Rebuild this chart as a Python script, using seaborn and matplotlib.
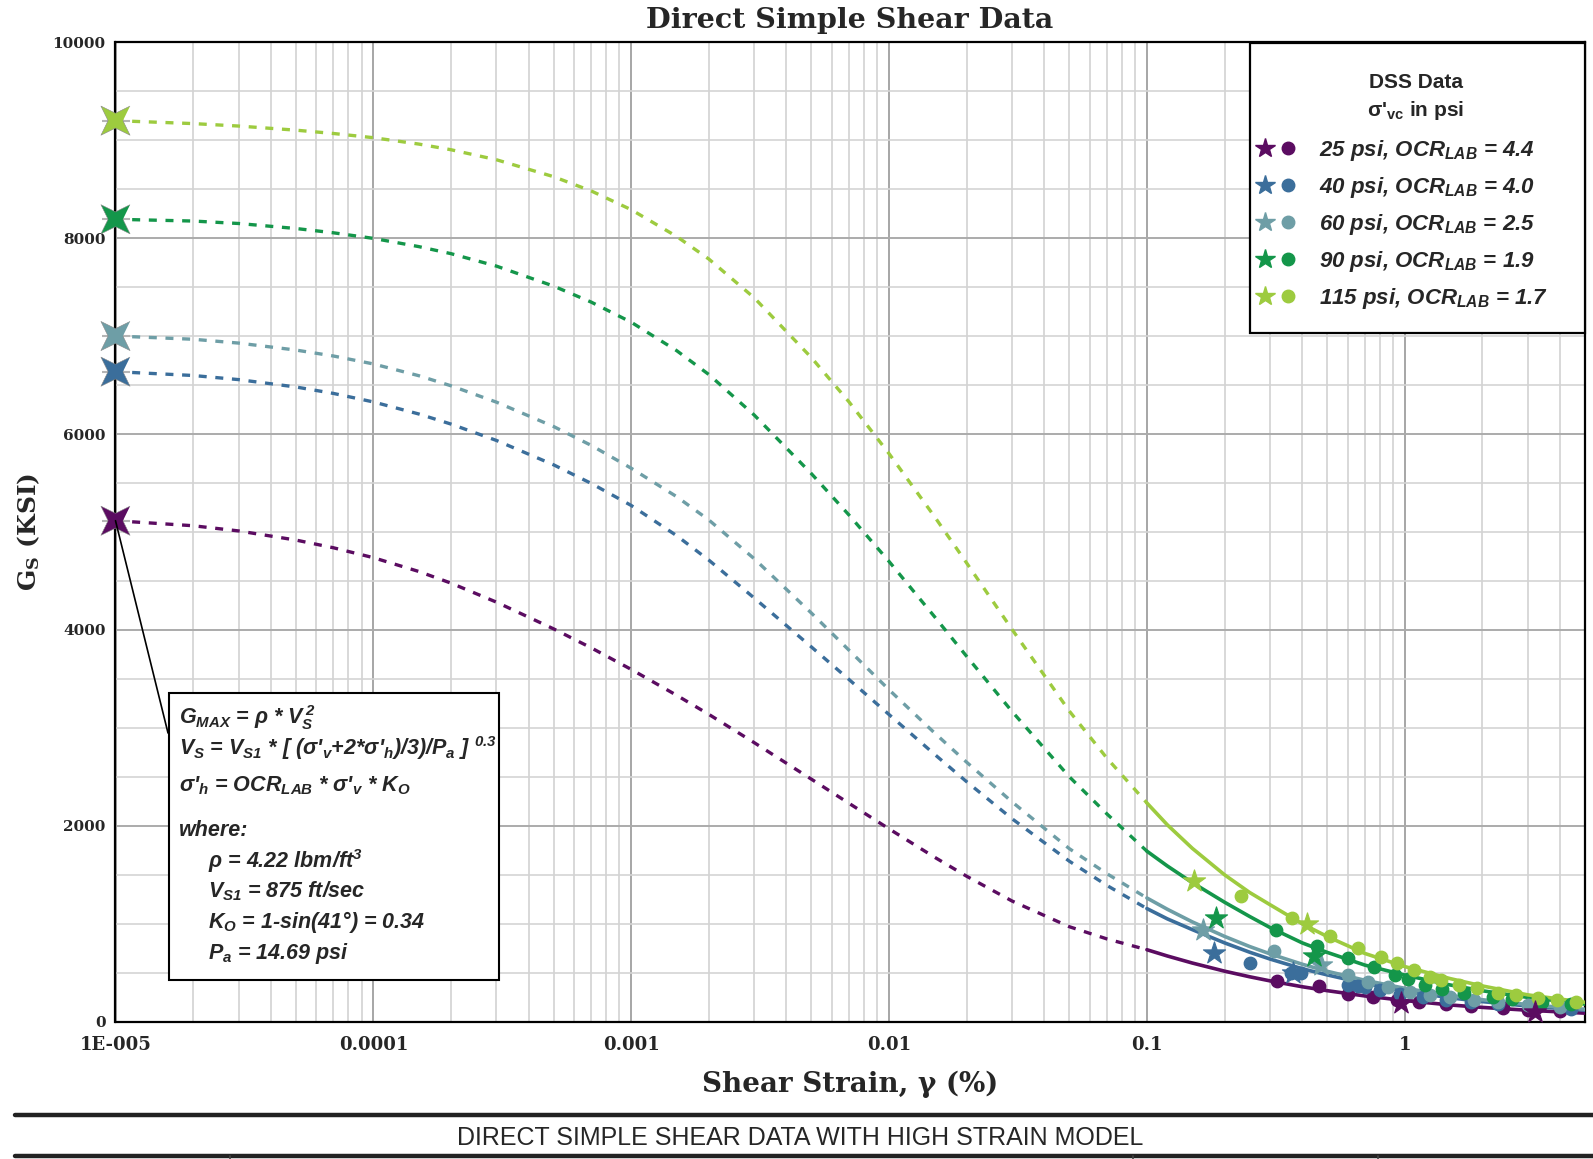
import numpy as np
import pandas as pd
import matplotlib
matplotlib.use("Agg")
import matplotlib.pyplot as plt
import seaborn as sns
from matplotlib.lines import Line2D
from matplotlib.patches import Rectangle
from matplotlib.legend_handler import HandlerTuple
from matplotlib.font_manager import FontProperties
from matplotlib.ticker import FixedLocator, FixedFormatter, NullFormatter, MultipleLocator

# ---------------- data ----------------
series_names = ["25 psi", "40 psi", "60 psi", "90 psi", "115 psi"]
ocr_values = ["4.4", "4.0", "2.5", "1.9", "1.7"]
series_colors = ["#5b0c61", "#3b6e9b", "#6e9ea6", "#14964a", "#9dcb3f"]

gmax_strain = 1e-5
gmax_values = [5115, 6637, 7001, 8193, 9200]

strain_low = [1e-5, 2e-5, 3e-5, 5e-5, 7e-5, 1e-4, 1.5e-4, 2e-4, 3e-4, 5e-4, 7e-4, 1e-3,
              1.5e-3, 2e-3, 3e-3, 5e-3, 7e-3, 1e-2, 1.5e-2, 2e-2, 3e-2, 5e-2, 7e-2, 1e-1]
g_low_25 = [5115, 5064, 5011, 4918, 4839, 4738, 4597, 4478, 4284, 4011, 3817, 3597,
            3333, 3138, 2849, 2476, 2229, 1969, 1680, 1485, 1232, 970, 845, 735]
g_low_40 = [6637, 6598, 6556, 6481, 6415, 6328, 6205, 6102, 5935, 5686, 5496, 5271,
            4963, 4713, 4326, 3826, 3493, 3136, 2731, 2450, 2072, 1639, 1391, 1155]
g_low_60 = [7001, 6968, 6929, 6858, 6797, 6716, 6596, 6493, 6326, 6077, 5884, 5651,
            5361, 5123, 4727, 4172, 3792, 3389, 2949, 2649, 2244, 1767, 1511, 1263]
g_low_90 = [8193, 8175, 8150, 8099, 8055, 7998, 7914, 7842, 7715, 7511, 7347, 7142,
            6852, 6608, 6194, 5595, 5172, 4699, 4136, 3730, 3167, 2501, 2121, 1741]
g_low_115 = [9200, 9170, 9145, 9103, 9069, 9026, 8961, 8903, 8801, 8628, 8482, 8291,
             8018, 7787, 7391, 6780, 6327, 5800, 5158, 4683, 4005, 3172, 2690, 2233]

strain_high = [0.1, 0.12, 0.15, 0.2, 0.25, 0.3, 0.4, 0.5, 0.7, 1.0, 1.5, 2.0, 3.0, 5.0]
g_high_25 = [735, 671, 599, 516, 459, 417, 357, 317, 263, 216, 171, 146, 117, 87]
g_high_40 = [1155, 1050, 940, 805, 710, 640, 541, 478, 390, 312, 244, 205, 160, 118]
g_high_60 = [1263, 1148, 1019, 871, 768, 693, 587, 515, 423, 341, 268, 224, 175, 127]
g_high_90 = [1741, 1590, 1420, 1220, 1075, 962, 805, 708, 578, 476, 375, 316, 248, 180]
g_high_115 = [2233, 2010, 1770, 1500, 1320, 1195, 1000, 870, 697, 563, 440, 365, 274, 198]

star_x_25 = [0.97, 3.2]
star_g_25 = [190, 102]
star_x_40 = [0.182, 0.37]
star_g_40 = [701, 497]
star_x_60 = [0.165, 0.475]
star_g_60 = [939, 582]
star_x_90 = [0.186, 0.444]
star_g_90 = [1058, 667]
star_x_115 = [0.152, 0.416]
star_g_115 = [1432, 1000]

circ_x_25 = [0.32, 0.465, 0.6, 0.75, 0.93, 1.14, 1.45, 1.8, 2.4, 3.0, 4.0]
circ_g_25 = [418, 361, 286, 257, 223, 206, 180, 160, 135, 120, 105]
circ_x_40 = [0.252, 0.363, 0.397, 0.6, 0.66, 0.7, 0.8, 0.96, 1.18, 1.45, 1.8, 2.3, 3.2, 4.4]
circ_g_40 = [599, 497, 497, 378, 367, 351, 324, 284, 250, 223, 206, 182, 150, 130]
circ_x_60 = [0.311, 0.6, 0.72, 0.86, 1.05, 1.25, 1.5, 1.85, 2.3, 3.0, 4.0]
circ_g_60 = [718, 480, 409, 351, 307, 274, 257, 223, 200, 175, 150]
circ_x_90 = [0.316, 0.457, 0.6, 0.76, 0.92, 1.03, 1.2, 1.4, 1.7, 2.2, 2.6, 3.4, 4.4]
circ_g_90 = [939, 769, 650, 561, 476, 432, 375, 331, 291, 257, 230, 206, 182]
circ_x_115 = [0.231, 0.366, 0.514, 0.66, 0.81, 0.93, 1.09, 1.25, 1.38, 1.62, 1.9, 2.3,
              2.7, 3.3, 3.9, 4.6]
circ_g_115 = [1286, 1058, 871, 752, 662, 595, 527, 453, 426, 375, 341, 291, 274, 240,
              223, 206]

x_tick_values = [1e-5, 1e-4, 1e-3, 1e-2, 1e-1, 1]
x_tick_labels = ["1E-005", "0.0001", "0.001", "0.01", "0.1", "1"]
y_tick_values = [0, 2000, 4000, 6000, 8000, 10000]

# ---------------- tables ----------------
g_low_all = [g_low_25, g_low_40, g_low_60, g_low_90, g_low_115]
g_high_all = [g_high_25, g_high_40, g_high_60, g_high_90, g_high_115]
star_x_all = [star_x_25, star_x_40, star_x_60, star_x_90, star_x_115]
star_g_all = [star_g_25, star_g_40, star_g_60, star_g_90, star_g_115]
circ_x_all = [circ_x_25, circ_x_40, circ_x_60, circ_x_90, circ_x_115]
circ_g_all = [circ_g_25, circ_g_40, circ_g_60, circ_g_90, circ_g_115]

low_df = pd.concat([pd.DataFrame({"strain": strain_low, "G": g, "series": n})
                    for n, g in zip(series_names, g_low_all)], ignore_index=True)
high_df = pd.concat([pd.DataFrame({"strain": strain_high, "G": g, "series": n})
                     for n, g in zip(series_names, g_high_all)], ignore_index=True)
star_df = pd.concat([pd.DataFrame({"strain": x, "G": g, "series": n})
                     for n, x, g in zip(series_names, star_x_all, star_g_all)], ignore_index=True)
circ_df = pd.concat([pd.DataFrame({"strain": x, "G": g, "series": n})
                     for n, x, g in zip(series_names, circ_x_all, circ_g_all)], ignore_index=True)
gmax_df = pd.DataFrame({"strain": [gmax_strain] * 5, "G": gmax_values, "series": series_names})
palette = dict(zip(series_names, series_colors))

# ---------------- style ----------------
sns.set_theme(style="white")
plt.rcParams["font.family"] = ["DejaVu Serif", "DejaVu Sans"]
plt.rcParams["mathtext.fontset"] = "custom"
plt.rcParams["mathtext.it"] = "Liberation Sans:italic:bold"
plt.rcParams["mathtext.rm"] = "Liberation Sans:italic:bold"
plt.rcParams["mathtext.bf"] = "DejaVu Serif:bold"
plt.rcParams["mathtext.sf"] = "Liberation Sans:bold"

W, H = 1593, 1159
fig = plt.figure(figsize=(W / 100, H / 100), dpi=100)
fig.patch.set_facecolor("white")
ax_l, ax_r, ax_t, ax_b = 115.5, 1585, 42.3, 1021.7
ax = fig.add_axes([ax_l / W, 1 - ax_b / H, (ax_r - ax_l) / W, (ax_b - ax_t) / H])
ax.set_xscale("log")
ax.set_xlim(1e-5, 5)
ax.set_ylim(0, 10000)


def fx(px):
    return px / W


def fy(py):
    return 1 - py / H


# grid
ax.set_axisbelow(True)
ax.xaxis.set_major_locator(FixedLocator(x_tick_values))
ax.xaxis.set_major_formatter(FixedFormatter(x_tick_labels))
minor_x = [m * 10.0 ** e for e in range(-5, 1) for m in range(2, 10) if m * 10.0 ** e <= 5]
ax.xaxis.set_minor_locator(FixedLocator(minor_x))
ax.xaxis.set_minor_formatter(NullFormatter())
ax.yaxis.set_major_locator(FixedLocator(y_tick_values))
ax.yaxis.set_minor_locator(MultipleLocator(500))
ax.grid(which="major", axis="x", color="#a6a6a6", lw=1.4)
ax.grid(which="minor", axis="x", color="#d2d2d2", lw=1.2)
ax.grid(which="major", axis="y", color="#ababab", lw=1.4)
ax.grid(which="minor", axis="y", color="#d4d4d4", lw=1.2)
ax.tick_params(which="both", length=0)
ax.tick_params(axis="x", pad=10)
ax.tick_params(axis="y", pad=7)
for lab in ax.get_xticklabels():
    lab.set_fontweight("bold")
    lab.set_fontsize(13)
for lab in ax.get_yticklabels():
    lab.set_fontweight("bold")
    lab.set_fontsize(11)
for s in ax.spines.values():
    s.set_color("black")
    s.set_linewidth(1.6)

# curves
for name in series_names:
    sub = low_df[low_df.series == name]
    sns.lineplot(data=sub, x="strain", y="G", color=palette[name], ax=ax, lw=2.4,
                 estimator=None, sort=False, legend=False, linestyle=(0, (2.4, 2.6)),
                 zorder=3)
for name in series_names:
    sub = high_df[high_df.series == name]
    sns.lineplot(data=sub, x="strain", y="G", color=palette[name], ax=ax, lw=2.6,
                 estimator=None, sort=False, legend=False, zorder=3)

# data points
for name in series_names:
    c = palette[name]
    sns.scatterplot(data=circ_df[circ_df.series == name], x="strain", y="G", color=c,
                    marker="o", s=80, edgecolor=c, linewidth=1.0, ax=ax, legend=False,
                    zorder=4, clip_on=False)
    sns.scatterplot(data=star_df[star_df.series == name], x="strain", y="G", color=c,
                    marker="*", s=280, edgecolor=c, linewidth=0.8, ax=ax,
                    legend=False, zorder=5, clip_on=False)

# Gmax stars
ang = np.deg2rad(np.arange(8) * 45 + 45)
rad = np.where(np.arange(8) % 2 == 0, 1.0, 0.36)
star4 = list(zip(rad * np.cos(ang), rad * np.sin(ang)))
sns.scatterplot(data=gmax_df, x="strain", y="G", marker="_", s=380, color="#b5b5b5",
                linewidth=1.5, ax=ax, legend=False, zorder=5, clip_on=False)
sns.scatterplot(data=gmax_df, x="strain", y="G", hue="series", palette=palette,
                marker=star4, s=440, edgecolor="#888888", linewidth=0.4, ax=ax,
                legend=False, zorder=6, clip_on=False)

ax.set_xlabel("")
ax.set_ylabel(r"$\mathbf{G_S}$ (KSI)", fontsize=18, fontweight="bold")
ax.yaxis.set_label_coords(-0.05, 0.5)

# title and x-label
fig.text(fx(850), fy(21), "Direct Simple Shear Data", ha="center", va="center",
         fontsize=20.5, fontweight="bold")
fig.text(fx(850), fy(1084), "Shear Strain, γ (%)", ha="center", va="center",
         fontsize=20, fontweight="bold")

# legend (frame and title drawn separately)
fig.add_artist(Rectangle((fx(1250), fy(333)), fx(1585) - fx(1250), fy(43) - fy(333),
                         transform=fig.transFigure, facecolor="white", edgecolor="black",
                         lw=1.6, zorder=7))
leg_title_font = FontProperties(family="Liberation Sans", weight="bold", size=15)
fig.text(fx(1416), fy(82), "DSS Data", ha="center", va="center",
         fontproperties=leg_title_font, zorder=8)
fig.text(fx(1416), fy(110), "σ'$_{\\mathsf{vc}}$ in psi", ha="center", va="center",
         fontproperties=leg_title_font, zorder=8)
handles = []
for c in series_colors:
    st = Line2D([], [], marker="*", ls="none", color=c, markersize=15)
    ci = Line2D([], [], marker="o", ls="none", color=c, markersize=9)
    handles.append((st, ci))
labels = [f"{n}, OCR$_{{LAB}}$ = {o}" for n, o in zip(series_names, ocr_values)]
leg = fig.legend(handles, labels, handler_map={tuple: HandlerTuple(ndivide=None, pad=0)},
                 loc="upper left", bbox_to_anchor=(fx(1253.5), fy(138)),
                 bbox_transform=fig.transFigure, borderaxespad=0, borderpad=0,
                 frameon=False,
                 prop=FontProperties(family="Liberation Sans", weight="bold", style="italic", size=16),
                 labelspacing=0.54, handlelength=2.07, handletextpad=0.88)
leg.set_zorder(10)

# annotation box
fig.add_artist(Line2D([fx(115.5), fx(168)], [fy(520.7), fy(733)], color="black", lw=1.2,
                      zorder=4))
fig.add_artist(Rectangle((fx(169), fy(980)), fx(499) - fx(169), fy(693) - fy(980),
                         transform=fig.transFigure, facecolor="white", edgecolor="black",
                         lw=1.5, zorder=8))
ann_font = FontProperties(family="Liberation Sans", weight="bold", style="italic", size=15.5)
ann_lines = [
    (179, 718, r"$G_{MAX}$ = ρ * $V_S^{\,2}$"),
    (179, 748, r"$V_S$ = $V_{S1}$ * [ (σ'$_v$+2*σ'$_h$)/3)/$P_a$ ] $^{0.3}$"),
    (179, 786, r"σ'$_h$ = OCR$_{LAB}$ * σ'$_v$ * $K_O$"),
    (179, 831, "where:"),
    (208, 861, r"ρ = 4.22 lbm/ft$^3$"),
    (208, 891, r"$V_{S1}$ = 875 ft/sec"),
    (208, 922, r"$K_O$ = 1-sin(41°) = 0.34"),
    (208, 954, r"$P_a$ = 14.69 psi"),
]
for x, y, s in ann_lines:
    fig.text(fx(x), fy(y), s, ha="left", va="center", fontproperties=ann_font, zorder=9)

# bottom caption bar
fig.add_artist(Line2D([fx(15), 1], [fy(1115), fy(1115)], color="#222222", lw=3.2))
fig.add_artist(Line2D([fx(15), 1], [fy(1156), fy(1156)], color="#222222", lw=3.2))
for vx in [230, 1133, 1378]:
    fig.add_artist(Line2D([fx(vx), fx(vx)], [fy(1156), 0], color="#444444", lw=1.2))
fig.text(fx(800), fy(1138), "DIRECT SIMPLE SHEAR DATA WITH HIGH STRAIN MODEL",
         ha="center", va="center", fontsize=18, family="Liberation Sans")

fig.savefig("out.png", dpi=100, facecolor="white")
